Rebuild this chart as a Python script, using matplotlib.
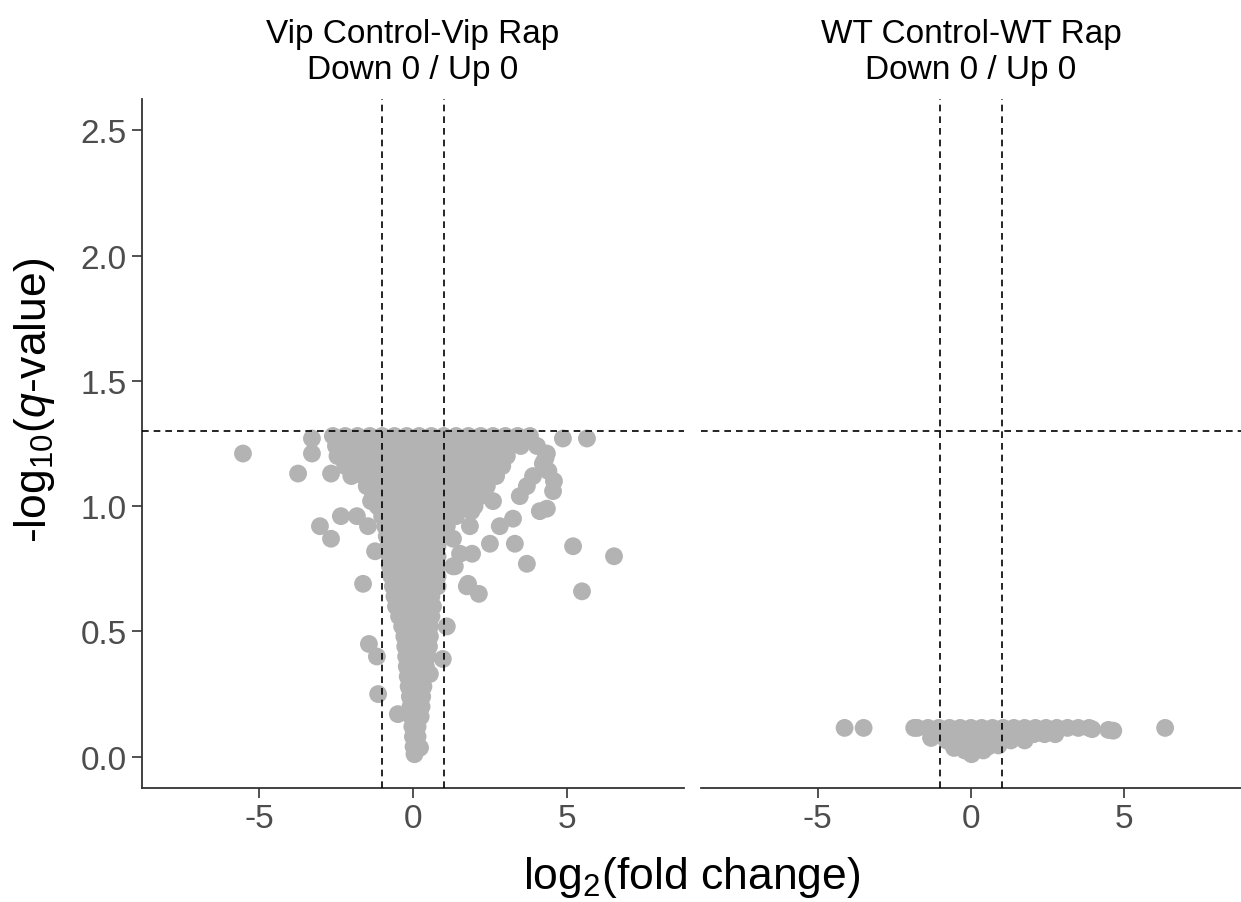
import numpy as np
import matplotlib
matplotlib.use("Agg")
import matplotlib.pyplot as plt

plt.rcParams['font.family'] = ['Liberation Sans', 'DejaVu Sans']
plt.rcParams['mathtext.fontset'] = 'custom'
plt.rcParams['mathtext.rm'] = 'Liberation Sans'
plt.rcParams['mathtext.it'] = 'Liberation Sans:italic'

# panel titles
panel_titles = ["Vip Control-Vip Rap\nDown 0 / Up 0", "WT Control-WT Rap\nDown 0 / Up 0"]

# Vip panel: dense core, read row by row (-log10 q, log2 fc)
vip_core_y = [1.28, 1.24, 1.20, 1.16, 1.12, 1.08, 1.04, 1.00, 0.96, 0.92, 0.88,
              0.84, 0.80, 0.76, 0.72, 0.68, 0.64, 0.60, 0.56, 0.52, 0.48, 0.44,
              0.40, 0.36, 0.32, 0.28, 0.24, 0.20, 0.16, 0.12, 0.08, 0.04, 0.01]
vip_core_x = [
    [-2.6, -2.2, -1.8, -1.4, -1.0, -0.6, -0.2, 0.2, 0.6, 1.0, 1.4, 1.8, 2.2, 2.6, 3.0, 3.4, 3.8],
    [-2.5, -2.1, -1.7, -1.3, -0.9, -0.5, -0.1, 0.3, 0.7, 1.1, 1.5, 1.9, 2.3, 2.7, 3.1, 3.5],
    [-2.45, -2.05, -1.65, -1.25, -0.85, -0.45, -0.05, 0.35, 0.75, 1.15, 1.55, 1.95, 2.35, 2.75, 3.05],
    [-2.2, -1.8, -1.4, -1.0, -0.6, -0.2, 0.2, 0.6, 1.0, 1.4, 1.8, 2.2, 2.6, 2.9],
    [-2.0, -1.6, -1.2, -0.8, -0.4, 0.0, 0.4, 0.8, 1.2, 1.6, 2.0, 2.4, 2.7],
    [-1.5, -1.1, -0.7, -0.3, 0.1, 0.5, 0.9, 1.3, 1.7, 2.1, 2.4],
    [-1.3, -0.9, -0.5, -0.1, 0.3, 0.7, 1.1, 1.5, 1.9, 2.2],
    [-1.15, -0.75, -0.35, 0.05, 0.45, 0.85, 1.25, 1.65, 2.0],
    [-1.0, -0.6, -0.2, 0.2, 0.6, 1.0, 1.4],
    [-0.9, -0.5, -0.1, 0.3, 0.7, 1.1],
    [-0.85, -0.45, -0.05, 0.35, 0.75, 1.0],
    [-0.8, -0.4, 0.0, 0.4, 0.8],
    [-0.75, -0.35, 0.05, 0.45, 0.8],
    [-0.75, -0.35, 0.05, 0.45, 0.8],
    [-0.7, -0.3, 0.1, 0.5, 0.8],
    [-0.65, -0.25, 0.15, 0.55, 0.8],
    [-0.6, -0.2, 0.2, 0.6],
    [-0.55, -0.15, 0.25, 0.65],
    [-0.45, -0.1, 0.25, 0.6],
    [-0.35, 0.0, 0.3, 0.55],
    [-0.28, 0.05, 0.3, 0.55],
    [-0.25, 0.05, 0.3, 0.52],
    [-0.22, 0.05, 0.3, 0.48],
    [-0.2, 0.05, 0.3, 0.42],
    [-0.17, 0.1, 0.37],
    [-0.14, 0.1, 0.34],
    [-0.1, 0.1, 0.3],
    [-0.08, 0.1, 0.28],
    [-0.05, 0.12, 0.25],
    [-0.02, 0.15],
    [0.0, 0.15],
    [0.02, 0.12],
    [0.05],
]
# Vip panel: scattered points outside the core
vip_out_x = [-5.52, -3.28, -3.28, -3.73, -2.66, -2.34, -1.82, -3.02, -2.66, -1.46,
             -1.23, -1.62, -1.36, -1.43, -1.17, -1.13, -0.49, 0.23,
             4.87, 5.65, 4.58, 4.55, 4.12, 4.35, 3.31, 5.2, 3.7, 6.53, 5.49, 2.5,
             1.85, 2.82, 3.25, 3.47, 3.7, 3.9, 4.22, 4.35, 4.03, 2.6, 1.9, 1.53,
             1.92, 1.3, 2.14, 1.79, 1.3, 1.1, 0.97, 0.55, 1.75, 1.36, 4.4, 4.3]
vip_out_y = [1.21, 1.27, 1.21, 1.13, 1.13, 0.96, 0.96, 0.92, 0.87, 0.92,
             0.82, 0.69, 1.02, 0.45, 0.40, 0.25, 0.17, 0.036,
             1.27, 1.27, 1.10, 1.06, 0.98, 0.99, 0.85, 0.84, 0.77, 0.80, 0.66, 0.85,
             0.92, 0.92, 0.95, 1.04, 1.08, 1.12, 1.17, 1.21, 1.24, 1.02, 0.98, 0.81,
             0.81, 0.76, 0.65, 0.69, 0.87, 0.52, 0.39, 0.33, 0.68, 0.76, 1.14, 1.19]

# WT panel
wt_core_y = [0.115, 0.09, 0.065, 0.045, 0.025, 0.01]
wt_core_x = [
    [-1.75, -1.4, -1.05, -0.7, -0.35, 0.0, 0.35, 0.7, 1.05, 1.4, 1.75, 2.1, 2.45, 2.8, 3.15, 3.5, 3.85],
    [-1.1, -0.75, -0.4, -0.05, 0.3, 0.65, 1.0, 1.35, 1.7, 2.05, 2.4, 2.75],
    [-0.8, -0.45, -0.1, 0.25, 0.6, 0.95, 1.3, 1.75],
    [-0.45, -0.1, 0.25, 0.6, 0.9],
    [-0.2, 0.1, 0.4],
    [0.02],
]
wt_out_x = [-4.12, -3.5, 6.33, 4.48, 4.64, 3.95, -1.85, -1.3, -0.55, 0.55, 2.3, 1.8]
wt_out_y = [0.115, 0.115, 0.115, 0.107, 0.104, 0.11, 0.115, 0.075, 0.035, 0.04, 0.095, 0.078]

fc_cut = 1.0
q_cut = -np.log10(0.05)

pt_color = '#B3B3B3'
fig = plt.figure(figsize=(12.41, 9.03), dpi=100)
ax1 = fig.add_axes([0.1144, 0.1262, 0.4367, 0.7631])
ax2 = fig.add_axes([0.5649, 0.1262, 0.435, 0.7631])

panels = [
    (ax1, vip_core_y, vip_core_x, vip_out_x, vip_out_y),
    (ax2, wt_core_y, wt_core_x, wt_out_x, wt_out_y),
]

for i, (ax, cy, cx, ox, oy) in enumerate(panels):
    xs = [x for row in cx for x in row] + ox
    ys = [y for y, row in zip(cy, cx) for _ in row] + oy
    ax.scatter(xs, ys, s=165, color=pt_color, edgecolors='none', zorder=2)
    ax.axvline(-fc_cut, color='black', lw=1.2, dashes=(4, 3), zorder=3)
    ax.axvline(fc_cut, color='black', lw=1.2, dashes=(4, 3), zorder=3)
    ax.axhline(q_cut, color='black', lw=1.2, dashes=(4, 3), zorder=3)
    ax.set_xlim(-8.8, 8.8)
    ax.set_ylim(-0.125, 2.625)
    ax.set_xticks([-5, 0, 5])
    ax.set_xticklabels(['-5', '0', '5'])
    ax.set_title(panel_titles[i], fontsize=24, linespacing=1.22, pad=15)
    for s in ['top', 'right']:
        ax.spines[s].set_visible(False)
    ax.spines['bottom'].set_color('#333333')
    ax.spines['bottom'].set_linewidth(1.3)
    ax.spines['left'].set_color('#333333')
    ax.spines['left'].set_linewidth(1.3)
    ax.tick_params(labelsize=24, labelcolor='#4D4D4D', length=7, width=1.2,
                   color='#333333', pad=4)

ax1.set_yticks([0, 0.5, 1.0, 1.5, 2.0, 2.5])
ax1.set_yticklabels(['0.0', '0.5', '1.0', '1.5', '2.0', '2.5'])
ax2.spines['left'].set_visible(False)
ax2.tick_params(axis='y', left=False, labelleft=False)

fig.text(0.557, 0.028, r'log$_2$(fold change)', fontsize=32, ha='center', va='center')
fig.text(0.028, 0.557, r'-log$_{10}$($\mathit{q}$-value)', fontsize=32,
         ha='center', va='center', rotation=90)

fig.savefig('out.png', dpi=100)
